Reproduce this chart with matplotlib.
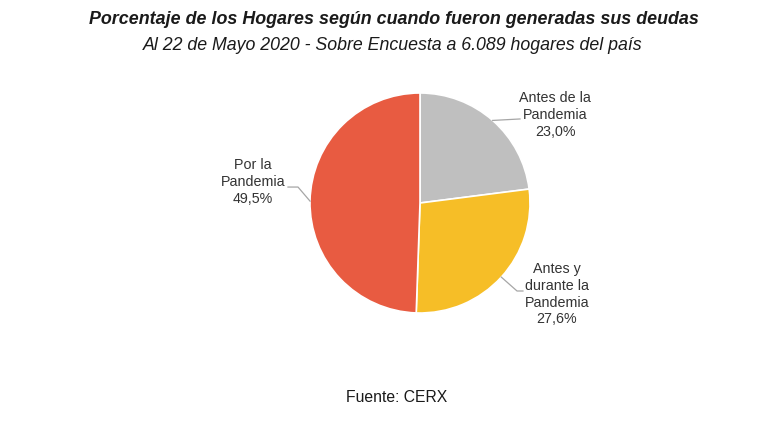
import numpy as np
import matplotlib
matplotlib.use("Agg")
import matplotlib.pyplot as plt

plt.rcParams['font.family'] = ['Liberation Sans', 'DejaVu Sans']

# Data
categories = ["Antes de la\nPandemia", "Antes y\ndurante la\nPandemia", "Por la\nPandemia"]
values = [23.0, 27.6, 49.5]
pct_labels = ["23,0%", "27,6%", "49,5%"]
colors = ["#BFBFBF", "#F6BE27", "#E85B41"]

title = "Porcentaje de los Hogares según cuando fueron generadas sus deudas"
subtitle = "Al 22 de Mayo 2020 - Sobre Encuesta a 6.089 hogares del país"
source = "Fuente: CERX"

W, H = 782, 436
fig = plt.figure(figsize=(W / 100, H / 100), dpi=100)
fig.patch.set_facecolor("white")

cx, cy, R = 420, 203, 110
ax = fig.add_axes([(cx - R) / W, (H - cy - R) / H, 2 * R / W, 2 * R / H])
wedges, _ = ax.pie(values, colors=colors, startangle=90, counterclock=False,
                   radius=1.0, wedgeprops=dict(edgecolor="white", linewidth=1.2))
ax.set_xlim(-1, 1)
ax.set_ylim(-1, 1)
ax.set_aspect("equal")
ax.axis("off")

# label layout (data units, radius = 1)
text_pos = [(1.23, 0.80), (1.245, -0.83), (-1.52, 0.19)]
elbows = [(0.909, 0.764), (0.882, -0.80), (-1.109, 0.145)]
ends = [(0.909, 0.764), (0.936, -0.80), (-1.20, 0.145)]

for w, cat, pct, tp, el, en in zip(wedges, categories, pct_labels, text_pos, elbows, ends):
    mid = np.deg2rad((w.theta1 + w.theta2) / 2)
    sx, sy = np.cos(mid), np.sin(mid)
    ax.plot([sx, el[0], en[0]], [sy, el[1], en[1]], color="#A6A6A6", lw=0.9,
            clip_on=False, zorder=3)
    ax.text(tp[0], tp[1], cat + "\n" + pct, ha="center", va="center",
            fontsize=10.3, color="#333333", linespacing=1.25, clip_on=False)

fig.text(394 / W, 1 - 20 / H, title, ha="center", va="center", fontsize=12.9,
         fontweight="bold", fontstyle="italic", color="#1a1a1a")
fig.text(393 / W, 1 - 46 / H, subtitle, ha="center", va="center", fontsize=12.8,
         fontstyle="italic", color="#1a1a1a")
fig.text(397 / W, 1 - 397 / H, source, ha="center", va="center", fontsize=11.3,
         color="#1a1a1a")

fig.savefig("out.png", dpi=100, facecolor="white")
